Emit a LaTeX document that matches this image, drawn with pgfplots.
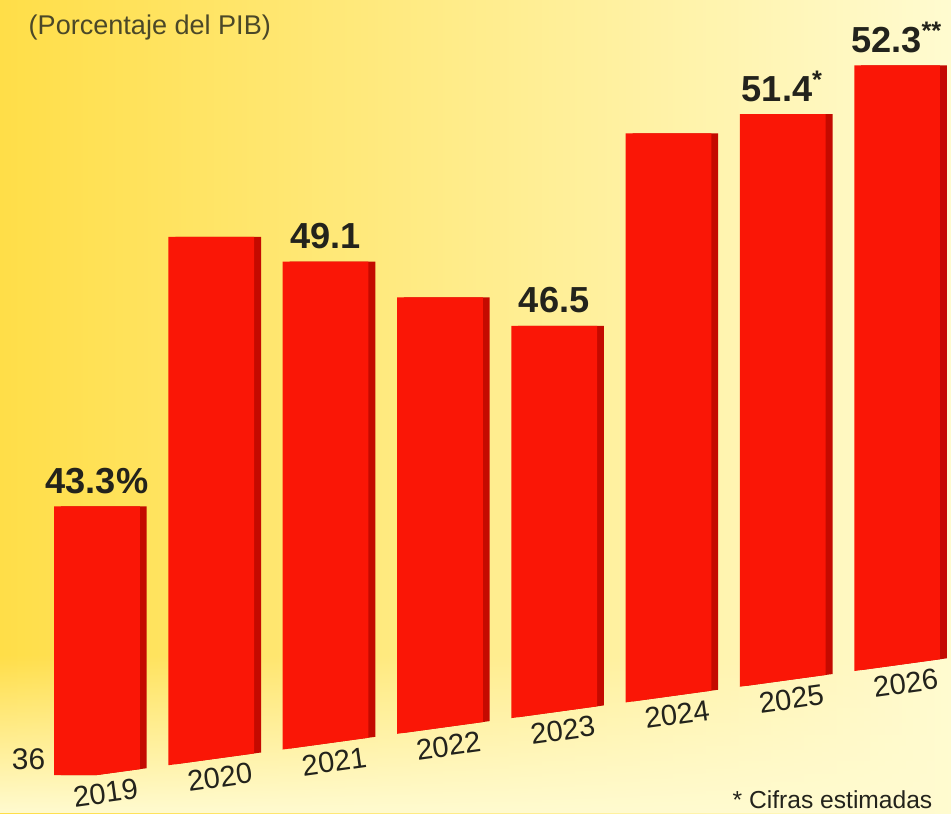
\documentclass[border=0pt]{standalone}
\usepackage{pgfplots}
\pgfplotsset{compat=1.18}
\usepackage{fontspec}
\setmainfont{Liberation Sans}
\usetikzlibrary{backgrounds,fadings}
\definecolor{barred}{RGB}{250,22,6}
\definecolor{barside}{RGB}{196,10,0}
\definecolor{txt}{RGB}{35,35,28}
\definecolor{titlecol}{RGB}{75,72,40}
\definecolor{bgyellow}{RGB}{255,222,72}
\definecolor{bgmid}{RGB}{255,243,160}
\definecolor{bgcream}{RGB}{255,251,208}

\begin{document}
\begin{tikzpicture}
\begin{axis}[
  x={(1.143cm,0.157cm)}, y={(0cm,0.368cm)},
  xmin=-0.5, xmax=7.45, ymin=36, ymax=53.6,
  ybar, bar width=0.75,
  axis line style={draw=none},
  major tick length=0pt,
  xtick={0,...,7},
  xticklabels={2019,2020,2021,2022,2023,2024,2025,2026},
  xticklabel style={font=\fontsize{8.3}{10}\selectfont, text=txt,
    rotate=8, anchor=center, yshift=-0.19cm, xshift=0.06cm},
  ytick={36}, yticklabels={36},
  yticklabel style={font=\fontsize{8.5}{10}\selectfont, text=txt,
    anchor=east, inner sep=0pt, xshift=0.06cm, yshift=0.24cm},
  clip=true,
]
% side face of the bars
\addplot[fill=barside, draw=none, bar shift=0.06] coordinates {
  (0,43.3) (1,50.2) (2,49.1) (3,47.7) (4,46.5) (5,51.3) (6,51.4) (7,52.3)};
% front face with labels
\addplot[fill=barred, draw=none, bar shift=0,
  nodes near coords, point meta=explicit symbolic,
  nodes near coords style={font=\bfseries\fontsize{10.3}{12}\selectfont,
    text=txt, anchor=south, inner sep=0pt, yshift=0.12cm}] coordinates {
  (0,43.3) [43.3\%]
  (1,50.2) [\mbox{}]
  (2,49.1) [49.1]
  (3,47.7) [\mbox{}]
  (4,46.5) [46.5]
  (5,51.3) [\mbox{}]
  (6,51.4) [51.4\textsuperscript{*}]
  (7,52.3) [52.3\textsuperscript{**}]};
\coordinate (O) at (axis cs:0,36);
\end{axis}

\begin{scope}[shift={(O)}]
  \begin{scope}[on background layer]
    \shade[left color=bgyellow, middle color=bgmid, right color=bgcream]
      (-0.97,7.75) rectangle (8.54,-0.38);
    \fill[bgcream, path fading=north] (-0.97,1.2) rectangle (8.54,-0.38);
  \end{scope}
  \node[anchor=west, font=\fontsize{7.7}{9}\selectfont, text=titlecol, inner sep=0pt]
    at (-0.69,7.47) {(Porcentaje del PIB)};
  \node[anchor=south west, font=\fontsize{7}{8}\selectfont, text=txt, inner sep=0pt]
    at (6.35,-0.34) {* Cifras estimadas};
  \pgfresetboundingbox
  \path[use as bounding box] (-0.97,7.75) rectangle (8.54,-0.38);
\end{scope}
\end{tikzpicture}
\end{document}
